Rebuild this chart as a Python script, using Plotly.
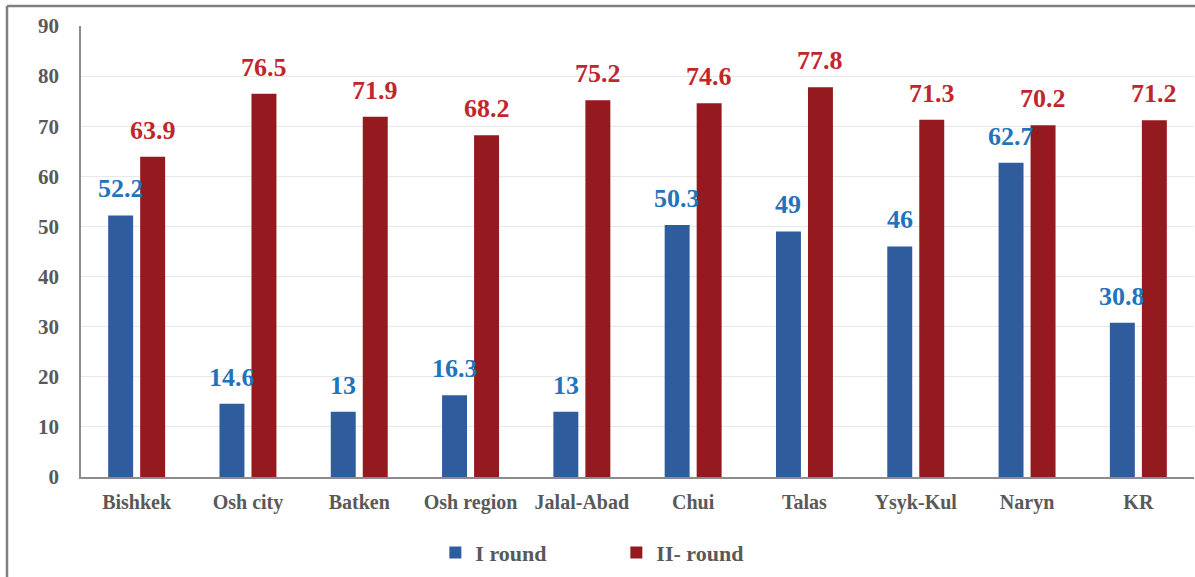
import plotly.graph_objects as go

categories = ["Bishkek", "Osh city", "Batken", "Osh region", "Jalal-Abad",
              "Chui", "Talas", "Ysyk-Kul", "Naryn", "KR"]
round1 = [52.2, 14.6, 13, 16.3, 13, 50.3, 49, 46, 62.7, 30.8]
round2 = [63.9, 76.5, 71.9, 68.2, 75.2, 74.6, 77.8, 71.3, 70.2, 71.2]
series_names = ["I round", "II- round"]
y_ticks = [0, 10, 20, 30, 40, 50, 60, 70, 80, 90]

BLUE_BAR = "#2e5c9c"
RED_BAR = "#951a1f"
BLUE_TXT = "#1f74bb"
RED_TXT = "#c0272d"
GRAY = "#595959"
SERIF = "Liberation Serif, Times New Roman, serif"

fig = go.Figure()
fig.add_trace(go.Bar(x=categories, y=round1, name=series_names[0],
                     marker=dict(color=BLUE_BAR, line=dict(width=0))))
fig.add_trace(go.Bar(x=categories, y=round2, name=series_names[1],
                     marker=dict(color=RED_BAR, line=dict(width=0))))

annotations = []
for c, v in zip(categories, round1):
    annotations.append(dict(x=c, y=v, text=f"<b>{v:g}</b>", showarrow=False,
                            xref="x", yref="y", xanchor="center", yanchor="bottom",
                            xshift=-16, yshift=10,
                            font=dict(family=SERIF, size=26, color=BLUE_TXT)))
for c, v in zip(categories, round2):
    annotations.append(dict(x=c, y=v, text=f"<b>{v:g}</b>", showarrow=False,
                            xref="x", yref="y", xanchor="center", yanchor="bottom",
                            xshift=16, yshift=10,
                            font=dict(family=SERIF, size=26, color=RED_TXT)))

fig.update_layout(
    width=1195, height=577,
    margin=dict(l=81, r=1, t=26, b=100),
    paper_bgcolor="white", plot_bgcolor="white",
    barmode="group", bargap=0.425, bargroupgap=0.22,
    font=dict(family=SERIF, color=GRAY),
    showlegend=True,
    legend=dict(orientation="h", x=0.481, xanchor="center", y=-0.168, yanchor="middle",
                font=dict(family=SERIF, size=22, color=GRAY, weight="bold"),
                entrywidth=136, itemwidth=30, bgcolor="rgba(0,0,0,0)"),
    annotations=annotations,
    xaxis=dict(showline=True, linecolor="#8c8c8c", linewidth=1.5, ticks="",
               ticklabelstandoff=6,
               tickfont=dict(family=SERIF, size=20, color=GRAY, weight="bold"),
               showgrid=False),
    yaxis=dict(range=[0, 90], tickvals=y_ticks, showline=True, linecolor="#8c8c8c",
               linewidth=1.5, gridcolor="#e8e8e8", gridwidth=1, ticks="",
               ticklabelstandoff=16,
               tickfont=dict(family=SERIF, size=21, color=GRAY, weight="bold"),
               zeroline=False),
    shapes=[
        dict(type="line", xref="paper", yref="paper",
             x0=(7 - 81) / 1113, x1=(7 - 81) / 1113, y0=(477 - 6) / 451, y1=-0.3,
             line=dict(color="#7f7f7f", width=2.5)),
        dict(type="line", xref="paper", yref="paper",
             x0=(7 - 81) / 1113, x1=1.01, y0=(477 - 6) / 451, y1=(477 - 6) / 451,
             line=dict(color="#7f7f7f", width=2.5)),
    ],
)

fig.write_html("out.html", config={"displayModeBar": False},
               post_script="document.body.style.margin='0';")
